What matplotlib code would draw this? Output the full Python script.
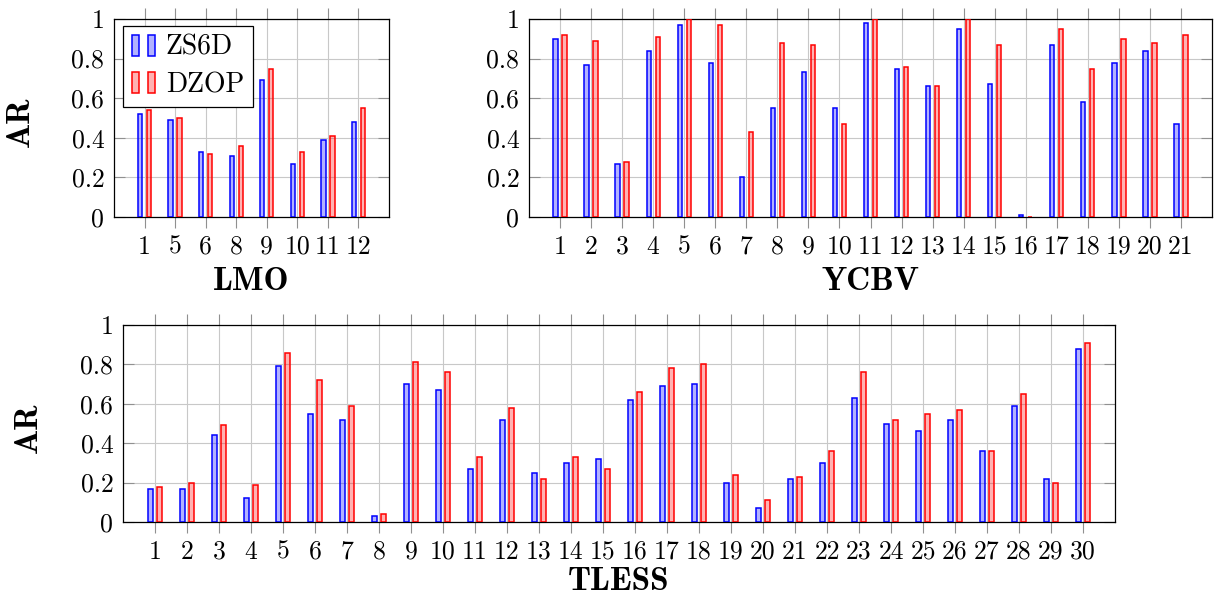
import matplotlib
matplotlib.use("Agg")
import matplotlib.pyplot as plt
import numpy as np
from matplotlib.patches import Rectangle
from matplotlib.legend_handler import HandlerTuple

# data (AR per object)
lmo_ids = ["1", "5", "6", "8", "9", "10", "11", "12"]
lmo_zs6d = [0.52, 0.49, 0.33, 0.31, 0.69, 0.27, 0.39, 0.48]
lmo_dzop = [0.54, 0.50, 0.32, 0.36, 0.75, 0.33, 0.41, 0.55]

ycbv_ids = [str(i) for i in range(1, 22)]
ycbv_zs6d = [0.90, 0.77, 0.27, 0.84, 0.97, 0.78, 0.20, 0.55, 0.73, 0.55, 0.98,
             0.75, 0.66, 0.95, 0.67, 0.01, 0.87, 0.58, 0.78, 0.84, 0.47]
ycbv_dzop = [0.92, 0.89, 0.28, 0.91, 1.00, 0.97, 0.43, 0.88, 0.87, 0.47, 1.00,
             0.76, 0.66, 1.00, 0.87, 0.00, 0.95, 0.75, 0.90, 0.88, 0.92]

tless_ids = [str(i) for i in range(1, 31)]
tless_zs6d = [0.17, 0.17, 0.44, 0.12, 0.79, 0.55, 0.52, 0.03, 0.70, 0.67,
              0.27, 0.52, 0.25, 0.30, 0.32, 0.62, 0.69, 0.70, 0.20, 0.07,
              0.22, 0.30, 0.63, 0.50, 0.46, 0.52, 0.36, 0.59, 0.22, 0.88]
tless_dzop = [0.18, 0.20, 0.49, 0.19, 0.86, 0.72, 0.59, 0.04, 0.81, 0.76,
              0.33, 0.58, 0.22, 0.33, 0.27, 0.66, 0.78, 0.80, 0.24, 0.11,
              0.23, 0.36, 0.76, 0.52, 0.55, 0.57, 0.36, 0.65, 0.20, 0.91]

yticks = [0, 0.2, 0.4, 0.6, 0.8, 1.0]
ytick_labels = ["0", "0.2", "0.4", "0.6", "0.8", "1"]

W, H = 1214, 594
TICK_FS = 18.5
LABEL_FS = 24
plt.rcParams["font.family"] = ["cmr10", "DejaVu Serif"]
plt.rcParams["axes.unicode_minus"] = False
plt.rcParams["axes.formatter.use_mathtext"] = True

fig = plt.figure(figsize=(W / 100, H / 100), dpi=100)

def px_axes(l, t, r, b):
    # axes rectangle from pixel edges
    return fig.add_axes([l / W, 1 - b / H, (r - l) / W, (b - t) / H])

def panel(ax, ids, zs, dz, name, xlab_y, ylab_x=None):
    n = len(ids)
    x = np.arange(n)
    ax.set_xlim(-1, n)
    ax.set_ylim(0, 1)
    # bars are ~4.3 px wide, centred 4.5 px either side of the tick
    ppu = ax.get_position().width * W / (n + 1)
    w = 4.3 / ppu
    off = 4.5 / ppu
    ax.bar(x - off, zs, w, color=(0, 0, 1, 0.3), edgecolor="#0000ff", lw=1.1, zorder=3)
    ax.bar(x + off, dz, w, color=(1, 0, 0, 0.3), edgecolor="#ff0000", lw=1.1, zorder=3)
    ax.set_xticks(x)
    ax.set_xticklabels(ids)
    ax.set_yticks(yticks)
    ax.set_yticklabels(ytick_labels)
    ax.grid(True, color="#c8c8c8", lw=0.8)
    ax.set_axisbelow(True)
    ax.tick_params(axis="x", direction="out", top=True, length=7.9, width=0.8,
                   color="#909090", labelsize=TICK_FS, pad=5)
    ax.tick_params(axis="y", direction="in", right=True, length=7.7, width=0.8,
                   color="#909090", labelsize=TICK_FS, pad=7)
    for s in ax.spines.values():
        s.set_linewidth(0.9)
    ax.set_xlabel(name, fontsize=LABEL_FS, family="cmb10")
    ax.xaxis.set_label_coords(0.5, xlab_y)
    if ylab_x is not None:
        ax.set_ylabel("AR", fontsize=LABEL_FS, family="cmb10")
        ax.yaxis.set_label_coords(ylab_x, 0.48)

ax1 = px_axes(114, 19, 389, 217)
panel(ax1, lmo_ids, lmo_zs6d, lmo_dzop, "LMO", -0.255, ylab_x=(35 - 114) / 275)

ax2 = px_axes(529, 19, 1212, 217)
panel(ax2, ycbv_ids, ycbv_zs6d, ycbv_dzop, "YCBV", -0.255)

ax3 = px_axes(123, 325, 1115, 522)
panel(ax3, tless_ids, tless_zs6d, tless_dzop, "TLESS", -0.228, ylab_x=(43 - 123) / 992)

# legend with pgfplots-style double bar markers
def pair(fc, ec):
    return (Rectangle((0, 0), 1, 1, fc=fc, ec=ec, lw=1.1),
            Rectangle((0, 0), 1, 1, fc=fc, ec=ec, lw=1.1))

leg = ax1.legend([pair((0, 0, 1, 0.3), "#0000ff"), pair((1, 0, 0, 0.3), "#ff0000")],
                 ["ZS6D", "DZOP"],
                 handler_map={tuple: HandlerTuple(ndivide=None, pad=0.3)},
                 loc="upper left", bbox_to_anchor=((122.7 - 114) / 275, (217 - 25.7) / 198),
                 borderaxespad=0, handlelength=0.85, handleheight=0.8,
                 handletextpad=0.38, labelspacing=0.4, borderpad=0.32,
                 fancybox=False, edgecolor="black", framealpha=1,
                 prop={"family": "cmr10", "size": 20})
leg.get_frame().set_linewidth(0.9)

fig.savefig("out.png", dpi=100)
